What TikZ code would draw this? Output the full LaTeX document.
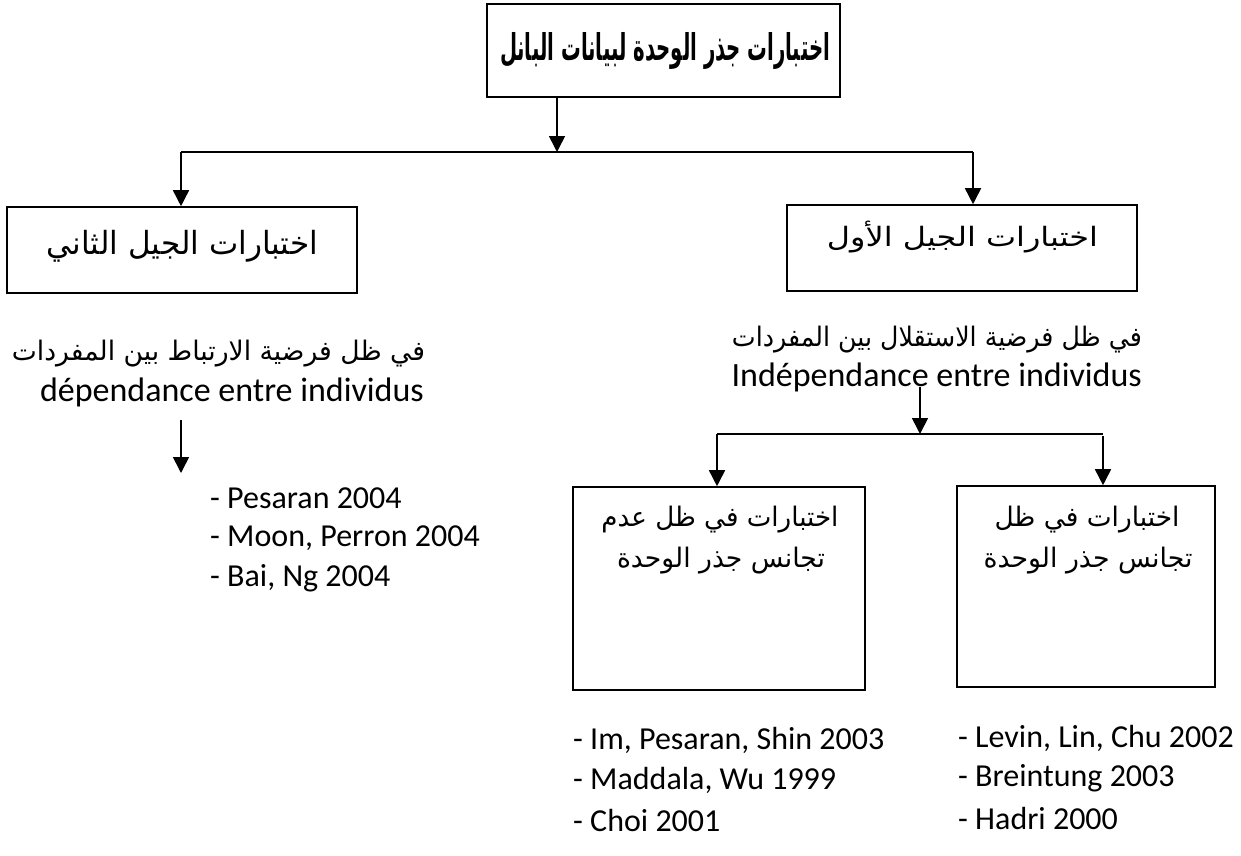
\documentclass[tikz,border=0pt]{standalone}
\usepackage{fontspec}
\usepackage{graphicx}
\setmainfont{Carlito}
\newfontfamily\arabicfont[Script=Arabic]{DejaVu Sans}
\TeXXeTstate=1
\usetikzlibrary{arrows.meta}

% Arabic line fitted to a given width and total height
\newcommand{\arline}[3]{\resizebox*{#1}{#2}{\arabicfont #3}}
\newcommand{\arlinebf}[3]{\resizebox*{#1}{#2}{\arabicfont\bfseries #3}}

\tikzset{
  box/.style={draw, line width=1.6pt, inner sep=0pt},
  titlebox/.style={draw, line width=2.8pt, inner sep=0pt},
  arr/.style={line width=1.6pt, -{Triangle[width=16pt,length=16pt]}},
  link/.style={line width=1.6pt},
  txt/.style={inner sep=0pt, outer sep=0pt},
  frlabel/.style={font=\fontsize{34}{40}\selectfont, inner sep=0pt, anchor=east},
  ref/.style={font=\fontsize{32}{38}\selectfont, inner sep=0pt, anchor=west}
}

\begin{document}
\begin{tikzpicture}[x=1pt, y=-1pt]
\useasboundingbox (0,0) rectangle (1241,855);

% frames
\node[titlebox, minimum width=353pt, minimum height=93pt] (top) at (663.5,50.5) {};
\node[box, minimum width=350pt, minimum height=86pt] (gen2) at (182,250) {};
\node[box, minimum width=350pt, minimum height=86pt] (gen1) at (962,248) {};
\node[box, minimum width=292pt, minimum height=203pt] (het) at (719,588.5) {};
\node[box, minimum width=258pt, minimum height=201pt] (hom) at (1086,586.5) {};

% titles inside the frames
\node[txt] (toptxt) at (665,51) {\arlinebf{330pt}{37pt}{\beginR اختبارات جذر الوحدة لبيانات البانل\endR}};
\node[txt] (gen2txt) at (182.5,246) {\arline{271pt}{32pt}{\beginR اختبارات الجيل الثاني\endR}};
\node[txt] (gen1txt) at (962.5,237) {\arline{271pt}{32pt}{\beginR اختبارات الجيل الأول\endR}};
\node[txt] (het1) at (720,520) {\arline{237pt}{27pt}{\beginR اختبارات في ظل عدم\endR}};
\node[txt] (het2) at (721,561) {\arline{208pt}{27pt}{\beginR تجانس جذر الوحدة\endR}};
\node[txt] (hom1) at (1087,519.5) {\arline{185pt}{27pt}{\beginR اختبارات في ظل\endR}};
\node[txt] (hom2) at (1088,561) {\arline{209pt}{27pt}{\beginR تجانس جذر الوحدة\endR}};

% hypotheses
\node[txt, anchor=east] (depar) at (425,353.5) {\arline{413pt}{27pt}{\beginR في ظل فرضية الارتباط بين المفردات\endR}};
\node[frlabel] (depfr) at (424,392) {dépendance entre individus};
\node[txt, anchor=east] (indar) at (1142,340) {\arline{410pt}{27pt}{\beginR في ظل فرضية الاستقلال بين المفردات\endR}};
\node[frlabel] (indfr) at (1142,377.5) {Indépendance entre individus};

% references
\node[ref] (p1) at (210,498) {- Pesaran 2004};
\node[ref] (p2) at (210,538) {- Moon, Perron 2004};
\node[ref] (p3) at (210,578) {- Bai, Ng 2004};
\node[ref] (h1) at (573,740) {- Im, Pesaran, Shin 2003};
\node[ref] (h2) at (573,780) {- Maddala, Wu 1999};
\node[ref] (h3) at (573,820) {- Choi 2001};
\node[ref] (o1) at (958,738) {- Levin, Lin, Chu 2002};
\node[ref] (o2) at (958,778) {- Breintung 2003};
\node[ref] (o3) at (958,818) {- Hadri 2000};

% junction points
\coordinate (j0) at (557,152);
\coordinate (jl) at (181,152);
\coordinate (jr) at (973,152);
\coordinate (k0) at (920,387);
\coordinate (k1) at (920,434);
\coordinate (kl) at (717,434);
\coordinate (kr) at (1103,434);
\coordinate (d0) at (181,420);
\coordinate (d1) at (181,473);

% connectors
\draw[arr] (top.south -| j0) -- (j0);
\draw[link] (jl) -- (jr);
\draw[arr] (jl) -- (jl |- gen2.north);
\draw[arr] (jr) -- (jr |- gen1.north);
\draw[arr] (k0) -- (k1);
\draw[link] (kl) -- (kr);
\draw[arr] (kl) -- (kl |- het.north);
\draw[arr] ([yshift=-2pt]kr) -- (kr |- hom.north);
\draw[arr] (d0) -- (d1);
\end{tikzpicture}
\end{document}
